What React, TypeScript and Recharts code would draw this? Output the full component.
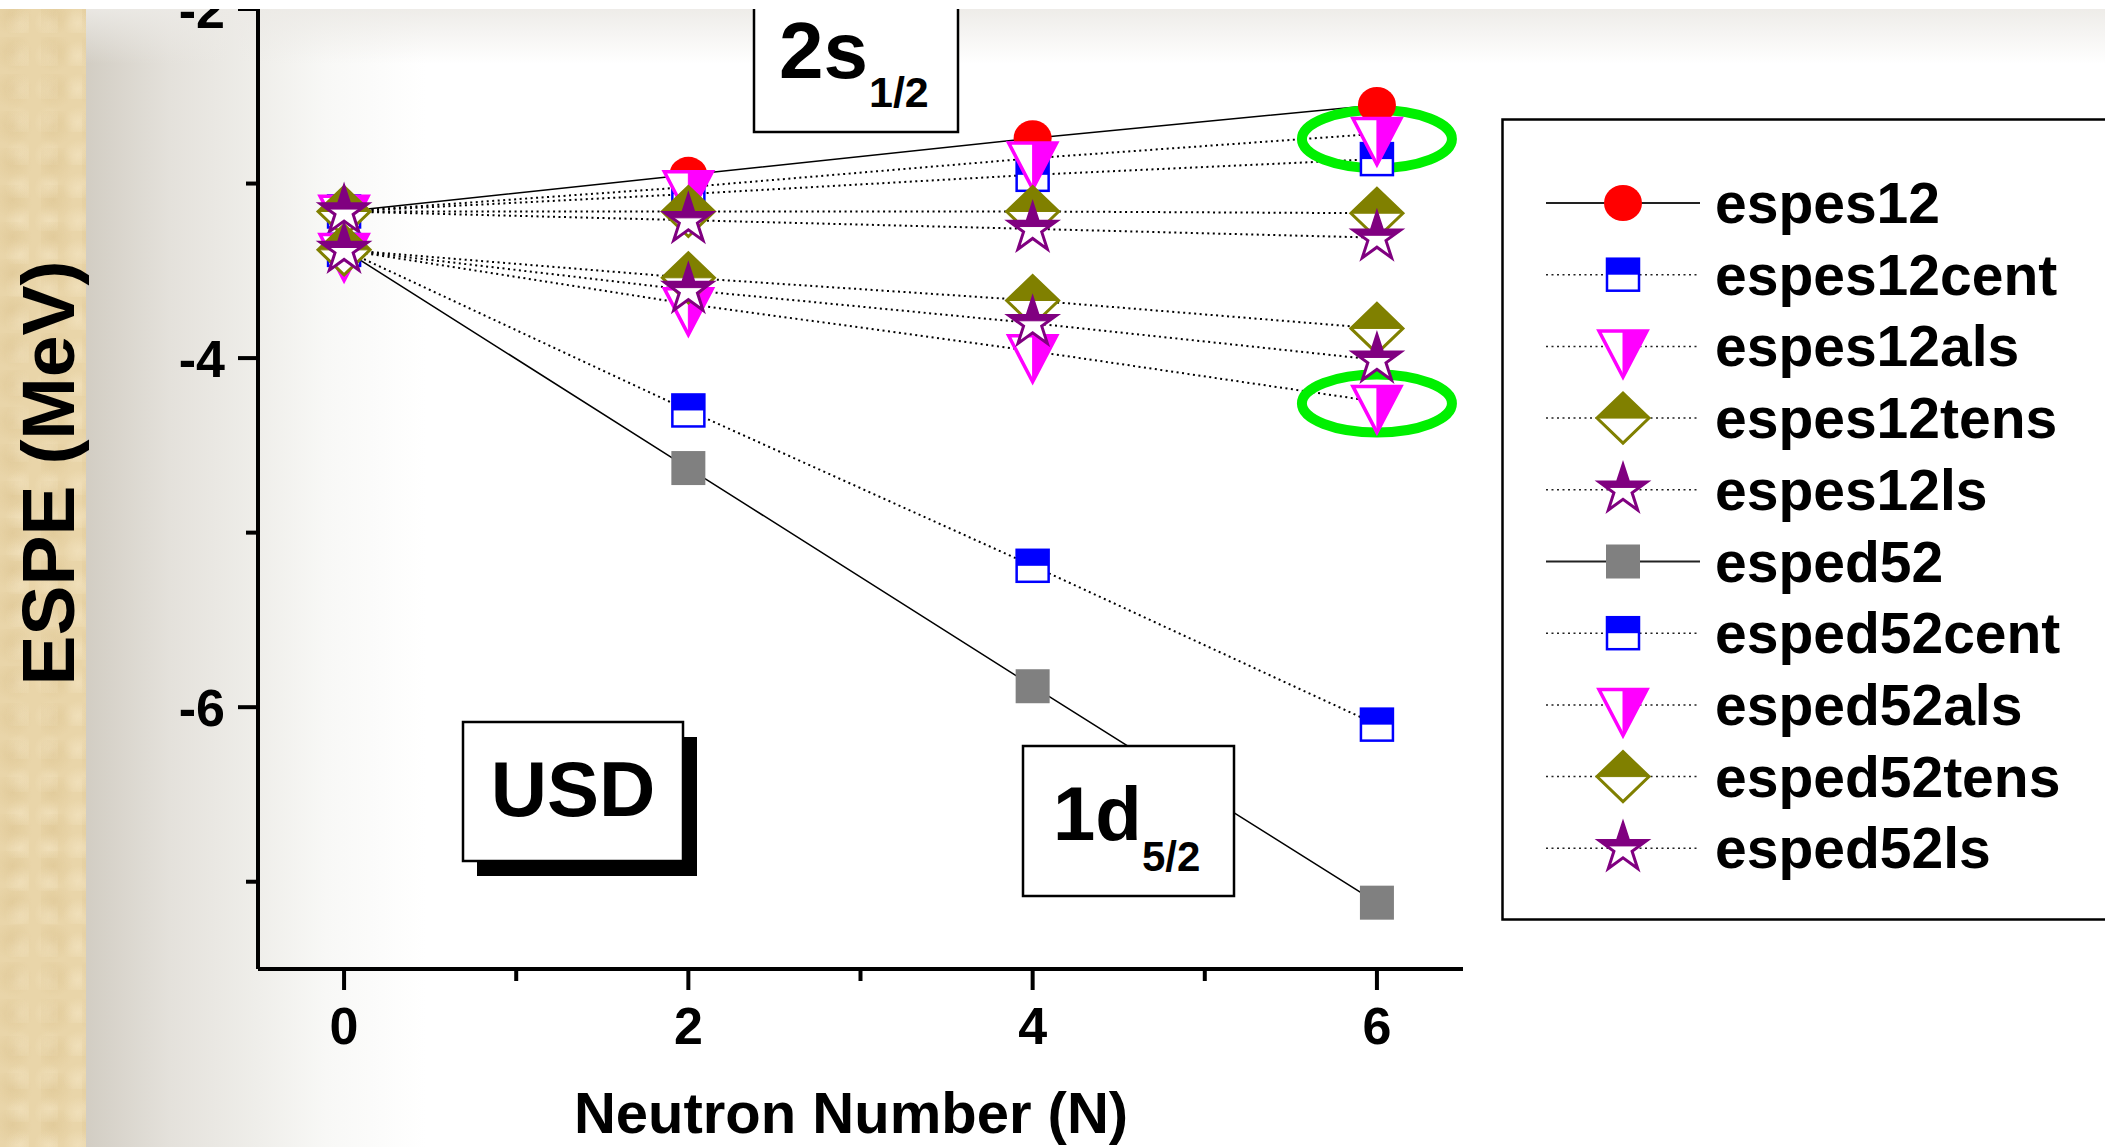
import React from "react";
import {
  LineChart,
  Line,
  XAxis,
  YAxis,
  Legend,
  Label,
  ReferenceDot,
} from "recharts";

const neutronNumber = [0, 2, 4, 6];

// 2s1/2 effective single-particle energies (MeV)
const espes12 = [-3.16, -2.95, -2.74, -2.55];
const espes12cent = [-3.16, -3.06, -2.95, -2.86];
const espes12als = [-3.16, -3.02, -2.855, -2.715];
const espes12tens = [-3.16, -3.16, -3.16, -3.17];
const espes12ls = [-3.16, -3.21, -3.26, -3.31];

// 1d5/2 effective single-particle energies (MeV)
const esped52 = [-3.38, -4.63, -5.88, -7.12];
const esped52cent = [-3.38, -4.3, -5.19, -6.1];
const esped52als = [-3.38, -3.69, -3.96, -4.25];
const esped52tens = [-3.38, -3.54, -3.67, -3.83];
const esped52ls = [-3.38, -3.61, -3.8, -4.01];

const xMajorTicks = [0, 2, 4, 6];
const xMinorTicks = [1, 3, 5];
const yMajorTicks = [-6, -4, -2];
const yMinorTicks = [-7, -5, -3];

// points circled in green
const circledPoints = [
  { N: 6, E: -2.745 },
  { N: 6, E: -4.26 },
];

const FONT = '"Liberation Sans", Arial, Helvetica, sans-serif';

const series = [
  { key: "espes12", values: espes12, marker: "circle", color: "#ff0000", dotted: false },
  { key: "espes12cent", values: espes12cent, marker: "halfSquare", color: "#0000ff", dotted: true },
  { key: "espes12als", values: espes12als, marker: "halfTriangle", color: "#ff00ff", dotted: true },
  { key: "espes12tens", values: espes12tens, marker: "halfDiamond", color: "#808000", dotted: true },
  { key: "espes12ls", values: espes12ls, marker: "halfStar", color: "#800080", dotted: true },
  { key: "esped52", values: esped52, marker: "square", color: "#808080", dotted: false },
  { key: "esped52cent", values: esped52cent, marker: "halfSquare", color: "#0000ff", dotted: true },
  { key: "esped52als", values: esped52als, marker: "halfTriangle", color: "#ff00ff", dotted: true },
  { key: "esped52tens", values: esped52tens, marker: "halfDiamond", color: "#808000", dotted: true },
  { key: "esped52ls", values: esped52ls, marker: "halfStar", color: "#800080", dotted: true },
];

const data = neutronNumber.map((n, i) => {
  const row: Record<string, number> = { N: n };
  series.forEach((s) => (row[s.key] = s.values[i]));
  return row;
});

const pts = (arr: number[][]) => arr.map((p) => p.join(",")).join(" ");

// keep the part of a polygon above the line y = ys
function clipAbove(poly: number[][], ys: number) {
  const out: number[][] = [];
  for (let i = 0; i < poly.length; i++) {
    const a = poly[(i + poly.length - 1) % poly.length];
    const b = poly[i];
    const aIn = a[1] <= ys;
    const bIn = b[1] <= ys;
    if (aIn !== bIn) {
      const t = (ys - a[1]) / (b[1] - a[1]);
      out.push([a[0] + t * (b[0] - a[0]), ys]);
    }
    if (bIn) out.push(b);
  }
  return out;
}

function Marker({ kind, color, cx, cy }: any) {
  if (cx == null || cy == null) return null;
  switch (kind) {
    case "circle":
      return <ellipse cx={cx} cy={cy} rx={19} ry={18} fill={color} />;
    case "square":
      return <rect x={cx - 17} y={cy - 17} width={34} height={34} fill={color} />;
    case "halfSquare":
      return (
        <g>
          <rect x={cx - 16} y={cy - 16} width={32} height={32} fill="#fff" stroke={color} strokeWidth={2.5} />
          <rect x={cx - 16} y={cy - 16} width={32} height={16} fill={color} />
        </g>
      );
    case "halfTriangle": {
      // point down, placed by its centroid
      const w = 24;
      const h = 46;
      const top = cy - h / 3;
      const tip = cy + (2 * h) / 3;
      const tri = [[cx - w, top], [cx + w, top], [cx, tip]];
      const right = [[cx, top], [cx + w, top], [cx, tip]];
      return (
        <g>
          <polygon points={pts(tri)} fill="#fff" stroke={color} strokeWidth={3.5} />
          <polygon points={pts(right)} fill={color} stroke={color} strokeWidth={1} />
        </g>
      );
    }
    case "halfDiamond": {
      const w = 26;
      const h = 25;
      const dia = [[cx, cy - h], [cx + w, cy], [cx, cy + h], [cx - w, cy]];
      const top = [[cx, cy - h], [cx + w, cy], [cx - w, cy]];
      return (
        <g>
          <polygon points={pts(dia)} fill="#fff" stroke={color} strokeWidth={3} />
          <polygon points={pts(top)} fill={color} stroke={color} strokeWidth={1} />
        </g>
      );
    }
    case "halfStar": {
      const R = 25;
      const r = R * 0.382;
      const star: number[][] = [];
      for (let k = 0; k < 10; k++) {
        const ang = (-90 + k * 36) * (Math.PI / 180);
        const rad = k % 2 === 0 ? R : r;
        star.push([cx + rad * Math.cos(ang), cy + rad * Math.sin(ang)]);
      }
      const split = cy - 0.0955 * R;
      return (
        <g>
          <polygon points={pts(star)} fill="#fff" stroke={color} strokeWidth={3} />
          <polygon points={pts(clipAbove(star, split))} fill={color} stroke={color} strokeWidth={1} />
        </g>
      );
    }
    default:
      return null;
  }
}

function XTick({ x, y, payload }: any) {
  const major = xMajorTicks.includes(payload.value);
  return (
    <g>
      <line x1={x} y1={y} x2={x} y2={y + (major ? 21 : 12)} stroke="#000" strokeWidth={4} />
      {major && (
        <text x={x} y={y + 75} textAnchor="middle" fontSize={52} fontWeight="bold" fontFamily={FONT} fill="#000">
          {payload.value}
        </text>
      )}
    </g>
  );
}

function YTick({ x, y, payload }: any) {
  const major = yMajorTicks.includes(payload.value);
  return (
    <g>
      <line x1={x} y1={y} x2={x - (major ? 20 : 12)} y2={y} stroke="#000" strokeWidth={4} />
      {major && (
        <text x={x - 33} y={y + 19} textAnchor="end" fontSize={52} fontWeight="bold" fontFamily={FONT} fill="#000">
          {payload.value}
        </text>
      )}
    </g>
  );
}

const GreenEllipse = (p: any) => (
  <ellipse cx={p.cx} cy={p.cy} rx={75} ry={29} fill="none" stroke="#00f000" strokeWidth={10} />
);

const LegendBox = () => (
  <svg width={720} height={806} style={{ display: "block" }}>
    <rect x={1.5} y={1.5} width={716} height={800} fill="#fff" stroke="#000" strokeWidth={2.5} />
    {series.map((s, i) => {
      const y = 85 + i * 71.7;
      return (
        <g key={s.key}>
          <line
            x1={45}
            x2={199}
            y1={y}
            y2={y}
            stroke="#222"
            strokeWidth={s.dotted ? 1.5 : 2}
            strokeDasharray={s.dotted ? "2 3.5" : undefined}
          />
          <Marker kind={s.marker} color={s.color} cx={122} cy={y} />
          <text x={214} y={y + 20} fontSize={57} fontWeight="bold" fontFamily={FONT} fill="#000">
            {s.key}
          </text>
        </g>
      );
    })}
  </svg>
);

export default function App() {
  const xTicks = [...xMajorTicks, ...xMinorTicks].sort((a, b) => a - b);
  const yTicks = [...yMajorTicks, ...yMinorTicks].sort((a, b) => a - b);

  return (
    <div
      style={{
        position: "absolute",
        left: 0,
        top: 0,
        width: 2105,
        height: 1147,
        overflow: "hidden",
        background: "#fff",
        fontFamily: FONT,
      }}
    >
      <div
        style={{
          position: "absolute",
          left: 0,
          top: 0,
          width: 86,
          height: 1147,
          backgroundColor: "#e9d5a9",
          backgroundImage:
            "radial-gradient(circle at 30% 40%, rgba(205,175,115,0.25), rgba(205,175,115,0) 55%), radial-gradient(circle at 70% 70%, rgba(250,238,210,0.4), rgba(250,238,210,0) 50%)",
          backgroundSize: "41px 37px, 29px 33px",
        }}
      />
      <div
        style={{
          position: "absolute",
          left: 86,
          top: 0,
          width: 420,
          height: 1147,
          background:
            "linear-gradient(to right, #d2cdc3 0px, #e4e1db 84px, #efeeea 172px, #f8f8f6 240px, #ffffff 340px)",
        }}
      />
      <div
        style={{
          position: "absolute",
          left: 86,
          top: 9,
          width: 2019,
          height: 55,
          background: "linear-gradient(to bottom, rgba(236,234,230,0.9), rgba(255,255,255,0))",
        }}
      />
      <div style={{ position: "absolute", left: 0, top: 0 }}>
        <LineChart
          width={2105}
          height={1147}
          data={data}
          margin={{ top: 9, right: 642, bottom: 0, left: 0 }}
        >
          <XAxis
            dataKey="N"
            type="number"
            domain={[-0.5, 6.5]}
            ticks={xTicks}
            interval={0}
            height={178}
            tickSize={0}
            tickMargin={0}
            tickLine={false}
            tick={<XTick />}
            axisLine={{ stroke: "#000", strokeWidth: 4 }}
            allowDataOverflow
          >
            <Label
              content={() => (
                <text x={851} y={1133} textAnchor="middle" fontSize={58} fontWeight="bold" fontFamily={FONT} fill="#000">
                  Neutron Number (N)
                </text>
              )}
            />
          </XAxis>
          <YAxis
            type="number"
            domain={[-7.5, -2]}
            ticks={yTicks}
            interval={0}
            width={258}
            tickSize={0}
            tickMargin={0}
            tickLine={false}
            tick={<YTick />}
            axisLine={{ stroke: "#000", strokeWidth: 4 }}
            allowDataOverflow
          >
            <Label
              content={() => (
                <text
                  x={74}
                  y={473}
                  transform="rotate(-90 74 473)"
                  textAnchor="middle"
                  fontSize={75}
                  fontWeight="bold"
                  fontFamily={FONT}
                  fill="#000"
                >
                  ESPE (MeV)
                </text>
              )}
            />
          </YAxis>
          {series.map((s) => (
            <Line
              key={s.key}
              dataKey={s.key}
              type="linear"
              stroke="#000"
              strokeWidth={s.dotted ? 2 : 1.5}
              strokeDasharray={s.dotted ? "2 3.5" : undefined}
              dot={(p: any) => (
                <Marker key={`${s.key}-${p.index}`} kind={s.marker} color={s.color} cx={p.cx} cy={p.cy} />
              )}
              activeDot={false}
              isAnimationActive={false}
            />
          ))}
          {circledPoints.map((p, i) => (
            <ReferenceDot key={i} x={p.N} y={p.E} r={1} ifOverflow="visible" shape={GreenEllipse} />
          ))}
          <Legend
            content={LegendBox}
            layout="vertical"
            align="center"
            verticalAlign="middle"
            wrapperStyle={{ left: 1501, top: 118, width: 720, height: 806 }}
          />
        </LineChart>
      </div>
      <svg
        width={2105}
        height={1147}
        style={{ position: "absolute", left: 0, top: 0, pointerEvents: "none" }}
      >
        <g fontFamily={FONT} fontWeight="bold" fill="#000">
          <rect x={754} y={-10} width={204} height={142} fill="#fff" stroke="#000" strokeWidth={2.5} />
          <text x={779} y={78} fontSize={80}>2s</text>
          <text x={869} y={107} fontSize={43}>1/2</text>

          <rect x={477} y={737} width={220} height={139} fill="#000" />
          <rect x={463} y={722} width={220} height={139} fill="#fff" stroke="#000" strokeWidth={2.5} />
          <text x={573} y={816} fontSize={78} textAnchor="middle">USD</text>

          <rect x={1023} y={746} width={211} height={150} fill="#fff" stroke="#000" strokeWidth={2.5} />
          <text x={1053} y={840} fontSize={76}>1d</text>
          <text x={1142} y={871} fontSize={42}>5/2</text>
        </g>
        <rect x={0} y={0} width={2105} height={9} fill="#fff" />
      </svg>
    </div>
  );
}
